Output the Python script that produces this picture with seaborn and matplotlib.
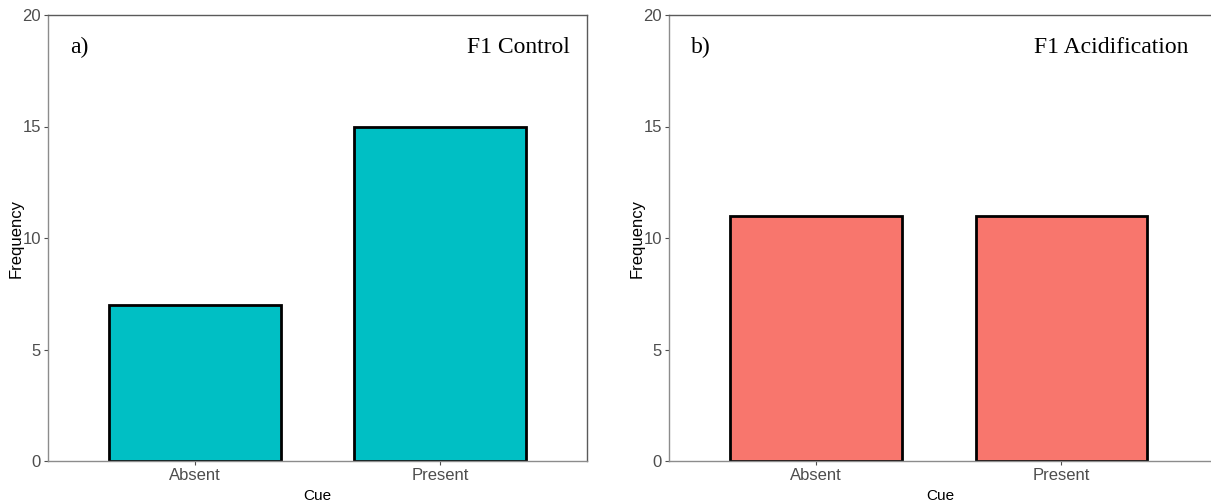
import matplotlib
matplotlib.use("Agg")
import matplotlib.pyplot as plt
import seaborn as sns
import pandas as pd

categories = ["Absent", "Present"]
control_values = [7, 15]
acid_values = [11, 11]
panel_letters = ["a)", "b)"]
panel_titles = ["F1 Control", "F1 Acidification"]
panel_colors = ["#00BFC4", "#F8766D"]
yticks = [0, 5, 10, 15, 20]

sns.set_style("white")
plt.rcParams['font.family'] = ['Liberation Sans Narrow', 'Liberation Sans', 'DejaVu Sans']

fig = plt.figure(figsize=(12.11, 5.04), dpi=100)
ax1 = fig.add_axes([48/1211, 43/504, 539/1211, 446/504])
ax2 = fig.add_axes([669/1211, 43/504, 542/1211, 446/504])

for ax, vals, letter, title, color, show_right, tx in zip(
        [ax1, ax2], [control_values, acid_values], panel_letters, panel_titles,
        panel_colors, [True, False], [0.968, 0.958]):
    df = pd.DataFrame({"Cue": categories, "Frequency": vals})
    sns.barplot(data=df, x="Cue", y="Frequency", ax=ax, color=color, width=0.7,
                edgecolor="black", linewidth=2.0, saturation=1)
    ax.set_xlim(-0.6, 1.6 if show_right else 1.61)
    ax.set_ylim(0, 20)
    ax.set_yticks(yticks)
    ax.tick_params(axis="both", colors="#4d4d4d", labelsize=12, length=3, width=0.8, pad=2,
                   direction="out", bottom=True, left=True)
    for s in ["left", "bottom"]:
        ax.spines[s].set_color("#8c8c8c")
        ax.spines[s].set_linewidth(1.0)
    ax.spines["top"].set_color("#5a5a5a")
    ax.spines["top"].set_linewidth(1.0)
    ax.spines["right"].set_color("#5a5a5a")
    ax.spines["right"].set_linewidth(1.0)
    ax.spines["right"].set_visible(show_right)
    ax.set_xlabel("Cue", fontsize=11, color="black", family=['Liberation Sans', 'DejaVu Sans'])
    ax.set_ylabel("Frequency", fontsize=12, color="black", family=['Liberation Sans', 'DejaVu Sans'])
    ax.yaxis.set_label_coords(-0.045, 0.5)
    ax.xaxis.set_label_coords(0.5, -0.062)
    ax.text(0.041, 0.928, letter, transform=ax.transAxes, fontsize=17, color="black",
            family=['Liberation Serif', 'DejaVu Serif'], va="center", ha="left")
    ax.text(tx, 0.928, title, transform=ax.transAxes, fontsize=17, color="black",
            family=['Liberation Serif', 'DejaVu Serif'], va="center", ha="right")

fig.savefig("out.png", dpi=100)
